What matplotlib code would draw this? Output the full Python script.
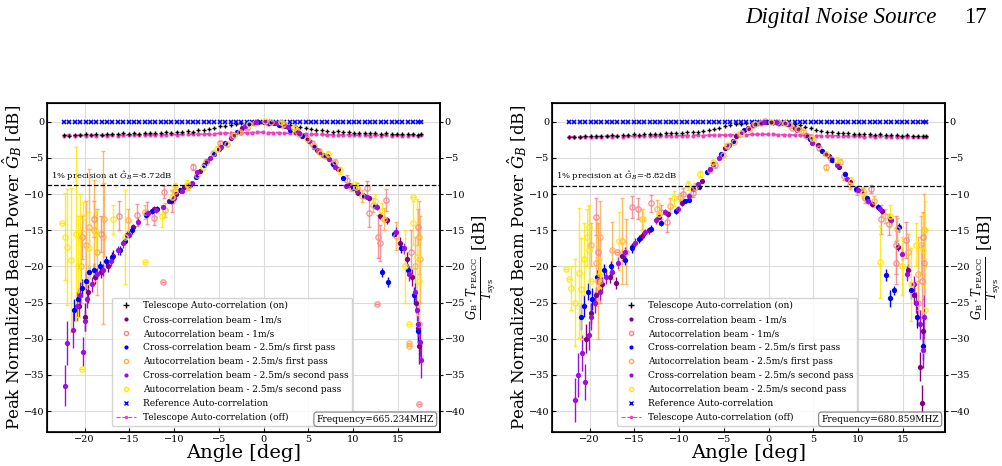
import matplotlib
matplotlib.use("Agg")
import matplotlib.pyplot as plt
from matplotlib.lines import Line2D

plt.rcParams["font.family"] = "DejaVu Serif"
plt.rcParams["mathtext.fontset"] = "dejavuserif"

# drift scan positions of the telescope / reference auto-correlations
scan_ang = [-22.3, -21.7, -21.1, -20.5, -19.9, -19.3, -18.7, -18.1, -17.5, -16.9,
            -16.3, -15.7, -15.1, -14.5, -13.9, -13.3, -12.7, -12.1, -11.5, -10.9,
            -10.3, -9.7, -9.1, -8.5, -7.9, -7.3, -6.7, -6.1, -5.5, -4.9,
            -4.3, -3.7, -3.1, -2.5, -1.9, -1.3, -0.7, -0.1, 0.5, 1.1,
            1.7, 2.3, 2.9, 3.5, 4.1, 4.7, 5.3, 5.9, 6.5, 7.1,
            7.7, 8.3, 8.9, 9.5, 10.1, 10.7, 11.3, 11.9, 12.5, 13.1,
            13.7, 14.3, 14.9, 15.5, 16.1, 16.7, 17.3, 17.6]
ref_db = [0.0] * len(scan_ang)

# ---------------- 665.234 MHz ----------------
A_on_db = [-1.85, -1.9, -1.8, -1.85, -1.75, -1.8, -1.7, -1.8, -1.75, -1.65,
           -1.7, -1.6, -1.7, -1.6, -1.65, -1.55, -1.6, -1.5, -1.55, -1.45,
           -1.5, -1.4, -1.45, -1.3, -1.35, -1.2, -1.1, -0.95, -0.8, -0.65,
           -0.55, -0.4, -0.3, -0.15, -0.1, 0.0, 0.05, 0.0, -0.05, -0.1,
           -0.2, -0.3, -0.5, -0.65, -0.7, -0.9, -1.0, -1.1, -1.2, -1.25,
           -1.35, -1.3, -1.45, -1.4, -1.5, -1.55, -1.5, -1.6, -1.55, -1.65,
           -1.6, -1.7, -1.65, -1.7, -1.75, -1.7, -1.8, -1.75]
A_off_db = [-1.9, -1.85, -1.9, -1.85, -1.9, -1.85, -1.9, -1.85, -1.9, -1.85,
            -1.9, -1.85, -1.85, -1.8, -1.85, -1.8, -1.85, -1.8, -1.8, -1.8,
            -1.75, -1.8, -1.75, -1.75, -1.7, -1.7, -1.7, -1.65, -1.65, -1.6,
            -1.6, -1.55, -1.55, -1.5, -1.5, -1.5, -1.45, -1.45, -1.5, -1.5,
            -1.5, -1.55, -1.6, -1.6, -1.65, -1.7, -1.7, -1.75, -1.75, -1.8,
            -1.8, -1.8, -1.85, -1.8, -1.85, -1.85, -1.85, -1.9, -1.85, -1.9,
            -1.85, -1.9, -1.85, -1.9, -1.9, -1.85, -1.9, -1.85]

A_c1_ang = [-20.6, -20.0, -19.6, -18.8, -18.2, -17.4, -16.8, -15.3, -14.6, -13.0,
            -12.2, -10.6, -9.8, -8.9, -7.1, -6.3, -5.0, -3.6, -2.4, -1.2,
            0.0, 1.2, 2.4, 3.6, 4.8, 6.0, 7.1, 8.3, 9.5, 10.6,
            11.8, 13.0, 13.8, 15.2, 16.0, 16.6, 17.0, 17.3, 17.4]
A_c1_db = [-25.5, -27.0, -23.5, -21.5, -20.8, -20.0, -18.5, -15.6, -14.6, -12.8,
           -12.0, -11.0, -10.0, -9.0, -6.8, -5.4, -3.8, -2.3, -0.9, -0.1,
           0.0, -0.2, -0.6, -1.4, -2.2, -3.9, -4.8, -6.5, -8.8, -9.8,
           -10.6, -13.0, -13.6, -16.8, -19.0, -21.5, -25.0, -28.5, -31.0]
A_c1_err = [1.5, 2.0, 1.5, 1.0, 0.8, 0.8, 0.7, 0.5, 0.5, 0.4,
            0.4, 0.3, 0.3, 0.3, 0.2, 0.2, 0.2, 0.1, 0.1, 0.1,
            0.1, 0.1, 0.1, 0.1, 0.1, 0.2, 0.2, 0.2, 0.3, 0.3,
            0.4, 0.5, 0.5, 0.8, 1.0, 1.2, 1.5, 2.0, 2.5]

A_a1_ang = [-20.3, -19.0, -18.2, -16.2, -14.2, -13.0, -12.2, -11.3, -11.1, -10.2,
            -7.9, -6.4, -4.9, -3.5, -1.9, 0.5, 2.1, 3.7, 5.4, 6.2,
            7.7, 9.3, 10.4, 11.6, 11.8, 12.7, 12.8, 13.0, 13.7, 16.5,
            17.3, 17.4, 17.4]
A_a1_db = [-16.0, -13.5, -15.5, -13.0, -12.9, -12.6, -13.3, -22.1, -9.7, -11.0,
           -6.2, -5.5, -3.0, -2.0, -0.8, -0.2, -0.5, -1.3, -3.0, -4.0,
           -5.7, -8.0, -9.2, -9.2, -12.6, -25.2, -15.9, -16.8, -10.8, -18.0,
           -14.5, -28.0, -39.0]
A_a1_err = [3.0, 2.5, 2.5, 2.0, 1.5, 1.5, 1.0, 0.0, 0.8, 1.5,
            0.4, 0.3, 0.3, 0.2, 0.2, 0.1, 0.1, 0.2, 0.3, 0.3,
            0.4, 0.6, 0.8, 1.0, 2.0, 0.0, 3.0, 2.5, 1.5, 3.0,
            2.5, 3.0, 0.0]

A_c2_ang = [-21.2, -20.8, -20.3, -19.9, -19.5, -19.0, -18.3, -17.6, -16.9, -16.1,
            -15.5, -14.7, -13.2, -12.5, -11.9, -10.3, -9.4, -8.2, -7.6, -6.7,
            -5.6, -4.3, -3.0, -1.7, -0.6, 0.6, 1.7, 3.0, 4.3, 5.6,
            6.6, 7.7, 8.9, 10.0, 11.2, 12.4, 13.2, 13.9, 14.6, 15.4,
            16.1, 16.8, 17.2]
A_c2_db = [-26.0, -24.5, -23.0, -22.0, -20.8, -20.5, -20.0, -19.3, -18.7, -17.8,
           -16.5, -15.0, -12.9, -12.4, -12.0, -11.0, -9.5, -8.8, -7.6, -6.0,
           -4.4, -2.9, -1.4, -0.3, 0.0, -0.1, -0.4, -1.1, -2.0, -3.5,
           -4.6, -5.8, -7.8, -9.2, -10.2, -11.6, -20.8, -22.1, -15.5, -17.5,
           -20.5, -24.0, -29.0]
A_c2_err = [1.5, 1.5, 1.2, 1.2, 1.0, 1.0, 0.8, 0.8, 0.7, 0.6,
            0.6, 0.5, 0.4, 0.4, 0.4, 0.3, 0.3, 0.3, 0.2, 0.2,
            0.2, 0.1, 0.1, 0.1, 0.1, 0.1, 0.1, 0.1, 0.1, 0.2,
            0.2, 0.2, 0.3, 0.3, 0.3, 0.4, 0.6, 0.7, 0.5, 0.6,
            0.8, 1.2, 1.8]

A_a2_ang = [-20.4, -19.9, -19.5, -19.0, -18.6, -18.0, -17.8, -15.2, -13.3, -11.0,
            -9.9, -8.5, -7.4, -5.7, -4.1, -2.6, -1.0, 0.8, 2.3, 3.9,
            5.6, 6.9, 8.0, 9.8, 11.0, 12.2, 13.5, 14.8, 16.2, 16.3,
            16.9, 17.4, 17.5]
A_a2_db = [-20.0, -17.0, -14.5, -15.0, -18.0, -16.0, -13.5, -13.6, -12.5, -12.2,
           -9.6, -8.9, -7.4, -4.3, -3.1, -1.4, -0.2, 0.0, -0.3, -1.7,
           -3.4, -4.7, -5.6, -9.0, -10.3, -11.5, -13.4, -15.8, -30.6, -31.0,
           -20.0, -16.0, -19.0]
A_a2_err = [5.0, 6.0, 8.0, 7.0, 6.0, 12.0, 5.0, 1.5, 1.0, 1.0,
            0.6, 0.5, 0.4, 0.3, 0.2, 0.2, 0.1, 0.1, 0.1, 0.2,
            0.3, 0.3, 0.4, 0.6, 0.8, 1.0, 1.5, 2.0, 0.0, 0.0,
            4.0, 5.0, 6.0]

A_c3_ang = [-22.2, -22.0, -21.3, -20.9, -20.5, -20.2, -20.0, -19.7, -19.2, -18.6,
            -17.9, -17.1, -16.3, -15.7, -15.0, -14.0, -12.9, -12.0, -11.2, -10.0,
            -9.1, -8.0, -7.4, -6.0, -4.8, -3.4, -2.1, -0.9, 0.3, 1.5,
            2.7, 3.9, 5.1, 6.2, 7.3, 8.0, 9.2, 10.4, 11.5, 12.7,
            14.8, 15.7, 16.3, 16.9, 17.1, 17.3, 17.5, 17.6]
A_c3_db = [-36.5, -30.6, -28.8, -25.5, -24.0, -31.8, -27.5, -24.5, -22.5, -21.0,
           -20.5, -19.2, -17.8, -16.8, -15.6, -13.8, -12.6, -12.2, -11.8, -10.6,
           -9.6, -8.4, -7.0, -5.0, -3.5, -1.9, -0.6, 0.0, 0.0, -0.2,
           -0.7, -1.6, -2.6, -4.2, -5.2, -6.3, -8.9, -9.6, -10.4, -11.8,
           -15.2, -17.5, -21.0, -23.5, -26.0, -28.0, -30.5, -33.0]
A_c3_err = [2.8, 3.0, 2.5, 2.0, 1.8, 2.0, 1.5, 1.2, 1.0, 0.8,
            0.8, 0.7, 0.6, 0.6, 0.5, 0.5, 0.4, 0.4, 0.3, 0.3,
            0.3, 0.2, 0.2, 0.2, 0.1, 0.1, 0.1, 0.1, 0.1, 0.1,
            0.1, 0.1, 0.1, 0.2, 0.2, 0.2, 0.3, 0.3, 0.3, 0.4,
            0.6, 0.8, 1.0, 1.2, 1.5, 1.8, 2.0, 2.5]

A_a3_ang = [-22.5, -22.2, -22.0, -21.5, -21.0, -20.8, -20.5, -20.3, -20.2, -19.5,
            -18.7, -16.8, -15.5, -13.3, -11.4, -10.2, -9.9, -8.6, -6.8, -5.2,
            -3.3, -1.6, 0.2, 1.9, 3.4, 4.9, 6.3, 7.2, 8.5, 10.3,
            12.4, 13.2, 15.8, 16.2, 16.7, 16.7, 17.1, 17.4]
A_a3_db = [-14.0, -15.9, -17.3, -19.1, -15.5, -20.0, -16.0, -34.2, -13.1, -17.5,
           -15.4, -13.5, -16.0, -19.4, -13.0, -10.4, -9.0, -8.6, -6.2, -3.7,
           -1.8, -0.3, 0.1, 0.0, -0.8, -2.4, -4.3, -4.5, -6.7, -9.0,
           -11.0, -12.4, -20.0, -27.9, -10.4, -14.0, -18.7, -22.0]
A_a3_err = [0.0, 6.0, 8.0, 10.0, 12.0, 7.0, 6.0, 0.0, 2.0, 5.0,
            3.0, 2.0, 6.5, 0.0, 1.5, 0.8, 0.6, 0.5, 0.4, 0.3,
            0.2, 0.1, 0.1, 0.1, 0.2, 0.3, 0.3, 0.4, 0.5, 0.7,
            1.0, 1.2, 5.0, 0.0, 0.0, 3.0, 8.0, 6.0]

# ---------------- 680.859 MHz ----------------
B_on_db = [-2.1, -2.05, -2.1, -2.0, -2.0, -1.95, -1.9, -1.95, -1.85, -1.9,
           -1.8, -1.85, -1.75, -1.8, -1.7, -1.75, -1.65, -1.7, -1.6, -1.6,
           -1.5, -1.55, -1.45, -1.4, -1.35, -1.25, -1.1, -0.95, -0.8, -0.6,
           -0.45, -0.35, -0.3, -0.2, -0.15, -0.1, -0.1, -0.05, -0.1, -0.15,
           -0.2, -0.3, -0.35, -0.45, -0.7, -0.9, -1.1, -1.25, -1.35, -1.4,
           -1.5, -1.55, -1.6, -1.65, -1.7, -1.75, -1.7, -1.8, -1.75, -1.85,
           -1.8, -1.85, -1.9, -1.85, -1.9, -1.95, -1.9, -1.95]
B_off_db = [-2.1, -2.05, -2.1, -2.05, -2.1, -2.05, -2.05, -2.0, -2.05, -2.0,
            -2.05, -2.0, -2.0, -1.95, -2.0, -1.95, -2.0, -1.95, -1.95, -1.9,
            -1.95, -1.9, -1.9, -1.9, -1.85, -1.9, -1.85, -1.85, -1.8, -1.85,
            -1.8, -1.8, -1.75, -1.8, -1.75, -1.75, -1.7, -1.75, -1.75, -1.8,
            -1.8, -1.8, -1.85, -1.85, -1.9, -1.9, -1.9, -1.95, -1.95, -1.9,
            -1.95, -2.0, -1.95, -2.0, -2.0, -2.05, -2.0, -2.05, -2.0, -2.05,
            -2.05, -2.1, -2.05, -2.05, -2.1, -2.05, -2.1, -2.05]

B_c1_ang = [-20.4, -19.9, -19.3, -18.6, -17.7, -17.1, -16.4, -15.3, -14.2, -13.4,
            -12.3, -11.2, -9.7, -8.5, -7.5, -6.2, -4.9, -3.6, -2.3, -1.0,
            0.3, 1.6, 2.9, 4.2, 5.5, 6.7, 7.9, 9.1, 10.3, 11.5,
            12.7, 13.6, 14.5, 15.6, 16.3, 16.9, 17.1, 17.3]
B_c1_db = [-30.0, -26.5, -24.0, -22.5, -21.5, -22.3, -18.5, -17.3, -15.8, -15.0,
           -13.2, -12.8, -11.3, -9.3, -8.2, -5.8, -3.6, -2.0, -0.8, -0.1,
           0.0, -0.2, -0.8, -1.8, -3.2, -4.8, -6.3, -8.3, -9.6, -11.4,
           -12.4, -13.4, -17.3, -20.5, -24.0, -33.9, -38.9, -29.0]
B_c1_err = [2.0, 1.5, 1.2, 1.0, 0.8, 0.8, 0.7, 0.6, 0.5, 0.5,
            0.4, 0.4, 0.3, 0.3, 0.2, 0.2, 0.1, 0.1, 0.1, 0.1,
            0.1, 0.1, 0.1, 0.1, 0.2, 0.2, 0.2, 0.3, 0.3, 0.4,
            0.4, 0.5, 0.6, 0.8, 1.2, 2.0, 2.5, 2.0]

B_a1_ang = [-19.3, -19.1, -18.9, -17.0, -15.3, -14.6, -13.1, -12.0, -11.4, -9.6,
            -8.5, -6.0, -4.7, -3.2, -1.7, -0.4, 1.2, 2.6, 4.3, 5.6,
            7.0, 8.4, 9.9, 10.8, 11.4, 12.6, 13.5, 14.2, 14.2, 15.4,
            16.7, 17.1, 17.3, 17.4]
B_a1_db = [-13.1, -18.0, -22.0, -18.0, -11.8, -12.0, -11.3, -12.5, -13.8, -10.0,
           -9.8, -6.0, -3.4, -1.7, -0.4, 0.1, -0.2, -0.8, -2.0, -3.6,
           -5.2, -7.5, -9.5, -10.5, -9.3, -13.5, -14.2, -17.0, -19.5, -16.3,
           -25.0, -22.0, -16.0, -19.5]
B_a1_err = [2.5, 4.0, 3.0, 0.0, 1.5, 1.5, 1.2, 1.0, 1.5, 0.8,
            0.6, 0.4, 0.3, 0.2, 0.2, 0.1, 0.1, 0.1, 0.2, 0.3,
            0.3, 0.5, 0.6, 0.8, 0.6, 2.0, 1.5, 4.0, 3.0, 2.5,
            3.0, 5.0, 3.5, 5.0]

B_c2_ang = [-21.0, -20.6, -20.2, -19.7, -19.2, -18.4, -17.6, -16.0, -15.3, -14.5,
            -13.1, -12.0, -10.4, -9.3, -8.9, -7.8, -6.9, -5.3, -4.0, -2.7,
            -1.4, -0.2, 1.1, 2.2, 3.4, 4.6, 6.0, 7.1, 8.5, 9.8,
            11.0, 12.2, 13.1, 13.6, 14.0, 14.6, 15.9, 16.6, 17.2]
B_c2_db = [-27.0, -25.5, -23.5, -24.5, -21.5, -20.5, -20.0, -19.1, -17.5, -16.2,
           -14.8, -14.0, -12.4, -11.0, -10.8, -9.0, -7.0, -4.5, -2.6, -1.1,
           -0.3, 0.0, -0.1, -0.3, -1.0, -2.4, -4.0, -5.3, -7.2, -9.3,
           -10.5, -11.8, -21.2, -24.4, -23.3, -14.6, -23.3, -27.0, -31.0]
B_c2_err = [1.8, 1.5, 1.2, 1.5, 1.0, 0.8, 0.8, 0.7, 0.6, 0.6,
            0.5, 0.4, 0.4, 0.3, 0.3, 0.2, 0.2, 0.2, 0.1, 0.1,
            0.1, 0.1, 0.1, 0.1, 0.1, 0.1, 0.2, 0.2, 0.3, 0.3,
            0.3, 0.4, 0.8, 1.2, 0.6, 0.6, 1.2, 1.5, 2.0]

B_a2_ang = [-19.8, -19.3, -19.1, -18.9, -17.5, -16.4, -15.9, -14.2, -12.5, -11.0,
            -9.9, -8.2, -6.6, -5.1, -3.9, -2.2, -0.8, 0.9, 2.4, 3.8,
            5.0, 6.4, 8.0, 9.1, 10.5, 11.8, 13.0, 14.4, 15.6, 16.7,
            17.0, 17.4]
B_a2_db = [-17.0, -19.5, -22.0, -16.0, -17.8, -16.5, -18.0, -13.5, -12.0, -11.6,
           -10.4, -9.0, -6.6, -4.6, -2.8, -1.0, -0.1, 0.0, -0.4, -1.3,
           -2.6, -6.3, -5.5, -8.8, -9.6, -11.0, -13.0, -14.8, -18.0, -21.0,
           -17.0, -15.0]
B_a2_err = [3.0, 6.0, 8.0, 5.0, 4.0, 6.0, 4.5, 1.5, 1.2, 1.0,
            0.6, 0.5, 0.4, 0.3, 0.2, 0.2, 0.1, 0.1, 0.1, 0.2,
            0.2, 0.3, 0.3, 0.5, 0.6, 0.8, 1.0, 1.5, 2.5, 5.0,
            4.0, 5.0]

B_c3_ang = [-21.6, -21.3, -20.9, -20.5, -20.1, -19.8, -19.4, -18.9, -18.2, -17.5,
            -16.8, -16.0, -14.9, -13.8, -12.6, -11.6, -10.1, -8.9, -7.9, -6.6,
            -5.6, -4.4, -3.0, -1.8, -0.5, 0.8, 2.0, 3.2, 4.9, 6.3,
            7.6, 8.8, 10.0, 11.1, 12.4, 13.7, 14.9, 15.5, 16.2, 16.5,
            16.9, 17.2, 17.4]
B_c3_db = [-38.5, -35.0, -32.0, -36.0, -29.5, -27.0, -25.0, -23.5, -21.5, -20.8,
           -19.5, -18.0, -16.7, -15.3, -13.6, -12.5, -12.0, -10.2, -8.6, -6.5,
           -5.0, -3.2, -1.4, -0.4, 0.0, 0.0, -0.3, -1.1, -2.9, -4.4,
           -6.0, -7.9, -9.4, -11.0, -12.0, -13.6, -18.3, -21.0, -22.5, -25.0,
           -28.0, -31.5, -27.0]
B_c3_err = [3.0, 3.0, 2.5, 2.5, 2.0, 1.8, 1.5, 1.2, 1.0, 0.8,
            0.8, 0.7, 0.6, 0.5, 0.5, 0.4, 0.4, 0.3, 0.3, 0.2,
            0.2, 0.1, 0.1, 0.1, 0.1, 0.1, 0.1, 0.1, 0.1, 0.2,
            0.2, 0.3, 0.3, 0.4, 0.4, 0.5, 0.8, 1.0, 1.2, 1.5,
            2.0, 2.5, 3.0]

B_a3_ang = [-22.6, -22.3, -22.1, -21.6, -21.2, -21.0, -20.6, -20.3, -20.1, -20.1,
            -19.9, -18.8, -16.7, -14.0, -12.3, -10.6, -9.0, -7.7, -6.2, -4.6,
            -3.1, -1.5, 0.3, 1.8, 3.3, 4.8, 6.4, 7.6, 9.2, 10.6,
            12.5, 13.6, 14.9, 15.9, 16.5, 17.2, 17.5, 17.5]
B_a3_db = [-20.4, -21.8, -23.0, -25.0, -20.9, -23.1, -19.0, -16.0, -14.5, -17.7,
           -22.0, -21.0, -16.5, -13.5, -12.8, -10.6, -8.8, -7.2, -5.6, -3.2,
           -1.6, -0.3, 0.0, -0.2, -1.0, -2.2, -4.5, -5.3, -8.2, -9.8,
           -19.4, -13.0, -20.0, -22.5, -17.0, -17.7, -15.0, -26.0]
B_a3_err = [0.0, 0.0, 3.0, 6.0, 9.0, 7.0, 5.0, 4.0, 3.0, 6.0,
            0.0, 2.0, 4.0, 1.5, 1.5, 1.0, 0.6, 0.4, 0.3, 0.2,
            0.2, 0.1, 0.1, 0.1, 0.2, 0.2, 0.3, 0.4, 0.5, 0.7,
            5.0, 1.5, 4.0, 5.0, 3.0, 5.0, 4.0, 6.0]

labels = ["Telescope Auto-correlation (on)",
          "Cross-correlation beam - 1m/s",
          "Autocorrelation beam - 1m/s",
          "Cross-correlation beam - 2.5m/s first pass",
          "Autocorrelation beam - 2.5m/s first pass",
          "Cross-correlation beam - 2.5m/s second pass",
          "Autocorrelation beam - 2.5m/s second pass",
          "Reference Auto-correlation",
          "Telescope Auto-correlation (off)"]

c_cross = ["purple", "blue", "#9a10e0"]
c_auto = ["#f5868a", "#ffad4d", "#ffe800"]
c_off = "#f23fbf"


def draw_panel(ax, on_db, off_db, cross, auto, prec, freq):
    ax.plot(scan_ang, off_db, ls="--", lw=1.2, marker=".", ms=4, color=c_off, zorder=2)
    ax.plot(scan_ang, on_db, ls="none", marker="+", ms=3.5, mew=1.0, color="k", zorder=3)
    ax.plot(scan_ang, ref_db, ls="none", marker="x", ms=3.5, mew=1.2, color="blue", zorder=3)
    for i in range(3):
        ca, cd, ce = cross[i]
        aa, ad, ae = auto[i]
        ax.errorbar(ca, cd, yerr=ce, fmt="o", ms=3.8, mew=0, color=c_cross[i],
                    elinewidth=1.0, capsize=1.5, capthick=0.8, zorder=4)
        ax.errorbar(aa, ad, yerr=ae, fmt="o", ms=3.8, mfc="none", mec=c_auto[i], mew=1.0,
                    ecolor=c_auto[i], elinewidth=1.0, capsize=1.5, capthick=0.8,
                    alpha=0.85, zorder=4)
    ax.axhline(prec, ls="--", color="k", lw=0.9, zorder=5)
    ax.text(-23.8, prec + 0.3, "1%% precision at $\\hat{G}_B$=%.2fdB" % prec,
            fontsize=6, va="bottom", ha="left")
    ax.text(0.985, 0.025, "Frequency=" + freq, transform=ax.transAxes, ha="right",
            va="bottom", fontsize=6.5, zorder=12,
            bbox=dict(boxstyle="round,pad=0.3", fc="white", ec="gray", lw=0.8))

    ax.set_xlim(-24.2, 19.7)
    ax.set_ylim(-42.9, 2.6)
    ax.set_xticks(range(-20, 20, 5))
    ax.set_yticks(range(0, -45, -5))
    ax.grid(True, color="#dcdcdc", lw=0.8)
    ax.set_axisbelow(True)
    ax.tick_params(direction="in", labelsize=7, length=3, pad=2)
    for s in ax.spines.values():
        s.set_linewidth(1.2)
    ax.set_xlabel("Angle [deg]", fontsize=14, labelpad=0)
    ax.set_ylabel("Peak Normalized Beam Power $\\hat{G}_B$ [dB]", fontsize=12, labelpad=0)

    axr = ax.twinx()
    axr.set_ylim(ax.get_ylim())
    axr.set_yticks(range(0, -45, -5))
    axr.tick_params(labelsize=7, length=2.5, pad=1)
    axr.spines["right"].set_linewidth(1.2)
    axr.set_ylabel("$\\frac{G_\\mathrm{B}\\cdot T_\\mathrm{PEACC}}{T_\\mathrm{sys}}$ [dB]",
                   fontsize=12, labelpad=0)

    handles = [Line2D([], [], ls="none", marker="+", ms=4, color="k"),
               Line2D([], [], ls="none", marker="o", ms=3, mew=0, color=c_cross[0]),
               Line2D([], [], ls="none", marker="o", ms=3, mfc="none", mec=c_auto[0]),
               Line2D([], [], ls="none", marker="o", ms=3, mew=0, color=c_cross[1]),
               Line2D([], [], ls="none", marker="o", ms=3, mfc="none", mec=c_auto[1]),
               Line2D([], [], ls="none", marker="o", ms=3, mew=0, color=c_cross[2]),
               Line2D([], [], ls="none", marker="o", ms=3, mfc="none", mec=c_auto[2]),
               Line2D([], [], ls="none", marker="x", ms=3, color="blue"),
               Line2D([], [], ls="--", lw=0.8, marker=".", ms=3, color=c_off)]
    leg = ax.legend(handles, labels, loc="lower left", bbox_to_anchor=(0.155, 0.005),
                    fontsize=6.5, labelspacing=0.55, handlelength=2.2,
                    framealpha=0.85, edgecolor="#cccccc", fancybox=True)
    leg.set_zorder(10)


fig = plt.figure(figsize=(10.02, 4.66), dpi=100)
axA = fig.add_axes([0.047, 0.073, 0.392, 0.706])
axB = fig.add_axes([0.551, 0.073, 0.392, 0.706])

draw_panel(axA, A_on_db, A_off_db,
           [(A_c1_ang, A_c1_db, A_c1_err), (A_c2_ang, A_c2_db, A_c2_err), (A_c3_ang, A_c3_db, A_c3_err)],
           [(A_a1_ang, A_a1_db, A_a1_err), (A_a2_ang, A_a2_db, A_a2_err), (A_a3_ang, A_a3_db, A_a3_err)],
           -8.72, "665.234MHZ")
draw_panel(axB, B_on_db, B_off_db,
           [(B_c1_ang, B_c1_db, B_c1_err), (B_c2_ang, B_c2_db, B_c2_err), (B_c3_ang, B_c3_db, B_c3_err)],
           [(B_a1_ang, B_a1_db, B_a1_err), (B_a2_ang, B_a2_db, B_a2_err), (B_a3_ang, B_a3_db, B_a3_err)],
           -8.82, "680.859MHZ")

fig.text(0.935, 0.962, "Digital Noise Source", ha="right", va="center",
         family="Liberation Serif", style="italic", fontsize=16.5)
fig.text(0.985, 0.962, "17", ha="right", va="center", family="Liberation Serif", fontsize=16.5)

fig.savefig("out.png", dpi=100)
